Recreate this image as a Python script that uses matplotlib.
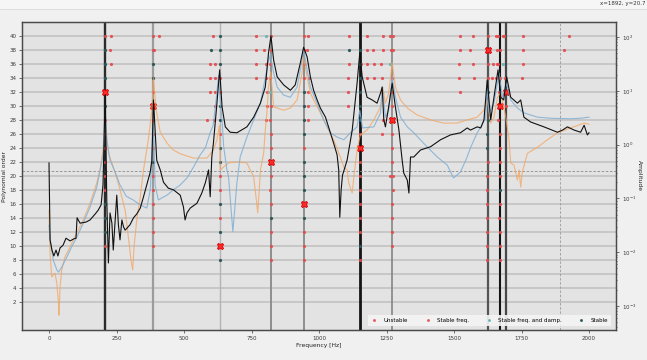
import matplotlib
matplotlib.use('Agg')
import matplotlib.pyplot as plt
from matplotlib.patches import Rectangle
from matplotlib.lines import Line2D
import numpy as np

# ---------------- FRF curves: frequency [Hz] and log10(amplitude) ----------------
black_f = [0, 4, 11, 18, 26, 33, 41, 52, 63, 78, 93, 100, 104, 115, 137, 152, 171, 182, 193, 200,
           208, 214, 220, 226, 233, 238, 251, 257, 263, 270, 276, 282, 300, 313, 325, 338, 350, 362,
           375, 381, 387, 399, 412, 424, 442, 461, 486, 498, 504, 511, 523, 548, 566, 579, 591, 597,
           603, 609, 622, 632, 641, 653, 671, 696, 733, 758, 783, 801, 813, 822, 832, 845, 869, 894,
           912, 931, 943, 956, 968, 980, 993, 1005, 1024, 1042, 1054, 1067, 1073, 1077, 1082, 1087,
           1104, 1123, 1141, 1151, 1160, 1178, 1197, 1215, 1228, 1234, 1240, 1246, 1258, 1271, 1283,
           1296, 1308, 1314, 1327, 1333, 1339, 1351, 1376, 1413, 1450, 1487, 1524, 1549, 1561, 1586,
           1599, 1611, 1623, 1636, 1648, 1663, 1673, 1684, 1695, 1710, 1735, 1747, 1759, 1784, 1833,
           1883, 1902, 1920, 1945, 1969, 1982, 1994, 2000]
black_logA = [-0.34, -1.77, -1.96, -2.07, -1.96, -2.07, -1.92, -1.87, -1.74, -1.79, -1.75, -1.74, -1.36,
              -1.46, -1.44, -1.40, -1.29, -1.22, -1.12, -0.75, 0.92, -1.03, -2.20, -1.27, -1.46, -1.96,
              -0.94, -1.49, -1.77, -1.40, -1.53, -1.59, -1.49, -1.36, -1.29, -1.18, -0.97, -0.75, -0.51,
              -0.29, 0.83, -0.29, -0.47, -0.70, -0.81, -0.84, -0.94, -1.16, -1.40, -1.27, -1.18, -1.09,
              -0.90, -0.71, -0.47, -0.97, -0.23, 0.03, 0.77, 1.39, 0.70, 0.33, 0.23, 0.22, 0.33, 0.51,
              0.77, 1.07, 1.70, 2.02, 1.57, 1.26, 1.11, 1.01, 1.11, 1.52, 1.81, 1.63, 1.26, 1.01, 0.83,
              0.68, 0.51, 0.22, 0.03, -0.19, -0.47, -1.35, -0.84, -0.57, -0.29, 0.27, 1.14, 1.70, 1.26,
              0.88, 0.83, 0.77, 0.96, 1.07, 0.46, 0.33, 0.70, 1.14, 0.70, 0.27, -0.29, -0.53, -0.66,
              -0.90, -0.23, -0.23, -0.10, -0.04, 0.09, 0.18, 0.22, 0.31, 0.27, 0.33, 0.31, 0.46, 1.20,
              0.46, 0.88, 1.39, 0.88, 0.83, 1.26, 0.88, 0.77, 0.83, 0.51, 0.42, 0.33, 0.23, 0.27, 0.33,
              0.27, 0.23, 0.36, 0.18, 0.22]

blue_f = [0, 4, 16, 29, 35, 47, 66, 84, 103, 127, 152, 177, 193, 201, 208, 214, 226, 245, 263, 286,
          312, 338, 362, 375, 382, 387, 393, 405, 418, 437, 461, 486, 511, 535, 560, 579, 597, 608,
          619, 628, 634, 641, 647, 659, 665, 681, 696, 708, 733, 758, 783, 801, 812, 820, 832, 845,
          869, 894, 919, 937, 943, 956, 968, 993, 1017, 1042, 1067, 1092, 1116, 1141, 1151, 1161,
          1203, 1228, 1234, 1246, 1258, 1271, 1283, 1302, 1327, 1351, 1400, 1438, 1475, 1498, 1524,
          1547, 1561, 1586, 1599, 1617, 1623, 1630, 1648, 1667, 1679, 1695, 1710, 1735, 1759, 1809,
          1858, 1932, 1969, 2000]
blue_logA = [-1.50, -1.77, -2.15, -2.33, -2.37, -2.28, -2.09, -1.90, -1.72, -1.46, -1.16, -0.79, -0.38,
             -0.16, 0.55, 0.09, -0.29, -0.51, -0.75, -0.96, -1.03, -1.12, -1.18, -0.84, -0.10, 0.36,
             -0.75, -1.03, -0.99, -0.94, -0.84, -0.75, -0.62, -0.42, -0.19, -0.06, 0.22, 0.36, 0.83,
             1.29, 0.83, 0.46, -0.04, -0.47, -0.60, -1.62, -0.71, -0.23, 0.14, 0.46, 0.77, 1.24, 1.54,
             1.67, 1.33, 1.07, 0.92, 0.88, 1.07, 1.57, 1.76, 1.39, 1.07, 0.77, 0.46, 0.22, 0.14, 0.09,
             0.22, 0.33, 0.64, 0.31, 0.33, 0.59, 1.07, 0.51, 0.64, 1.26, 0.88, 0.51, 0.33, 0.22, -0.04,
             -0.23, -0.38, -0.62, -0.51, -0.25, -0.06, 0.22, 0.33, 0.49, 1.07, 0.59, 0.77, 1.33, 0.88,
             1.14, 0.83, 0.68, 0.59, 0.51, 0.49, 0.48, 0.49, 0.51]

orange_f = [0, 4, 10, 22, 29, 35, 37, 41, 47, 59, 78, 103, 127, 152, 177, 189, 200, 208, 220, 233,
            248, 263, 282, 294, 304, 310, 315, 325, 338, 350, 368, 381, 387, 397, 412, 437, 460, 486,
            535, 585, 609, 622, 631, 634, 646, 665, 696, 733, 745, 758, 768, 773, 778, 783, 795, 801,
            807, 813, 821, 832, 845, 869, 894, 919, 937, 943, 956, 968, 980, 1005, 1030, 1054, 1079,
            1092, 1104, 1110, 1123, 1129, 1141, 1153, 1178, 1203, 1228, 1236, 1246, 1258, 1271, 1283,
            1302, 1327, 1364, 1413, 1462, 1512, 1549, 1586, 1611, 1623, 1636, 1648, 1661, 1673, 1692,
            1704, 1710, 1722, 1735, 1741, 1747, 1753, 1772, 1809, 1846, 1883, 1932, 1982, 2000]
orange_logA = [-1.22, -2.02, -2.46, -2.39, -2.57, -2.95, -3.17, -2.65, -2.33, -2.09, -1.90, -1.64, -1.40,
               -1.09, -0.71, -0.47, -0.10, 0.46, -0.16, -0.34, -0.57, -0.84, -1.22, -1.72, -2.15, -2.33,
               -1.90, -1.40, -0.97, -0.47, 0.09, 0.64, 1.24, 0.64, 0.23, 0.03, -0.10, -0.17, -0.25,
               -0.25, -0.10, 0.09, 0.36, -0.47, -0.42, -0.34, -0.32, -0.34, -0.47, -0.60, -1.03, -1.27,
               -0.90, -0.47, -0.16, 0.27, 0.59, 1.07, 1.35, 0.70, 0.68, 0.64, 0.68, 0.83, 1.33, 1.63,
               1.26, 0.96, 0.83, 0.59, 0.33, 0.09, -0.23, -0.42, -0.47, -0.71, -0.90, -0.60, -0.10,
               0.18, 0.27, 0.46, 0.70, 1.07, 0.77, 0.96, 1.52, 1.07, 0.83, 0.68, 0.55, 0.46, 0.40, 0.40,
               0.46, 0.51, 0.64, 0.83, 0.40, 0.51, 0.88, 0.96, 0.51, 0.09, -0.34, -0.38, -0.66, -0.47,
               -0.79, -0.51, -0.16, -0.05, 0.09, 0.22, 0.31, 0.40, 0.38]

# ---------------- stabilisation poles: (polynomial order, frequency [Hz]) ----------------
unstable = [(40, 229), (40, 408), (40, 608), (40, 765), (40, 958), (40, 1112), (40, 1176), (40, 1236),
            (40, 1262), (40, 1522), (40, 1570), (40, 1654), (40, 1663), (40, 1681), (40, 1755), (40, 1925),
            (38, 227), (38, 768), (38, 797), (38, 955), (38, 1177), (38, 1199), (38, 1236), (38, 1265),
            (38, 1524), (38, 1561), (38, 1661), (38, 1754), (38, 1906),
            (36, 228), (36, 597), (36, 615), (36, 765), (36, 804), (36, 1110), (36, 1157), (36, 1176),
            (36, 1203), (36, 1231), (36, 1520), (36, 1570), (36, 1646), (36, 1659), (36, 1663), (36, 1756),
            (34, 597), (34, 615), (34, 765), (34, 962), (34, 1109), (34, 1178), (34, 1205), (34, 1234),
            (34, 1519), (34, 1574), (34, 1640), (34, 1655), (34, 1751),
            (32, 597), (32, 615), (32, 958), (32, 1107), (32, 1234), (32, 1522),
            (30, 613), (30, 806), (30, 958), (30, 1107),
            (28, 585), (28, 612), (28, 804), (28, 958), (28, 1236),
            (26, 1234), (20, 1262)]
stable_freq = [(40, 208), (40, 387), (40, 821), (40, 943), (40, 1273), (40, 1626), (40, 1687),
               (38, 385), (38, 389), (38, 822), (38, 944), (38, 1274), (38, 1628), (38, 1669),
               (36, 819), (36, 944), (36, 1626),
               (34, 633), (34, 804), (34, 819), (34, 944), (34, 1271), (34, 1626), (34, 1670), (34, 1690),
               (32, 208), (32, 387), (32, 633), (32, 807), (32, 1270), (32, 1668),
               (30, 821), (30, 1271), (30, 1692),
               (28, 208), (28, 387), (28, 819), (28, 1664),
               (26, 208), (26, 387), (26, 633), (26, 821), (26, 1151), (26, 1272), (26, 1669),
               (24, 208), (24, 387), (24, 821), (24, 943), (24, 1272), (24, 1669),
               (22, 208), (22, 1151), (22, 1272), (22, 1626), (22, 1669),
               (20, 208), (20, 387), (20, 633), (20, 821), (20, 1151), (20, 1273), (20, 1624), (20, 1669),
               (18, 208), (18, 387), (18, 633), (18, 819), (18, 1151), (18, 1273), (18, 1624),
               (16, 387), (16, 821), (16, 1151), (16, 1272), (16, 1624), (16, 1669),
               (14, 387), (14, 633), (14, 1151), (14, 1272), (14, 1624), (14, 1667),
               (12, 387), (12, 821), (12, 945), (12, 1151), (12, 1272), (12, 1624), (12, 1669),
               (10, 208), (10, 387), (10, 821), (10, 945), (10, 1270), (10, 1624), (10, 1671),
               (8, 821), (8, 945), (8, 1151), (8, 1624), (8, 1671)]
stable_freq_damp = [(40, 804), (36, 1264), (36, 1682), (32, 819)]
stable = [(40, 633), (38, 208), (38, 601), (38, 633), (38, 1110), (38, 1151),
          (36, 208), (36, 387), (36, 633), (36, 1151), (34, 208), (34, 387), (34, 1151),
          (32, 943), (32, 1151), (32, 1626), (30, 208), (30, 633), (30, 943), (30, 1151), (30, 1626),
          (28, 633), (28, 943), (28, 1151), (28, 1626), (26, 943), (26, 1624), (24, 633), (24, 1624),
          (22, 387), (22, 633), (22, 945), (20, 945), (18, 945), (18, 1669), (16, 208), (16, 633),
          (14, 208), (14, 821), (14, 945), (12, 208), (12, 633), (10, 1151), (8, 633)]

# selected poles (frequency, order)
selected_f = [208, 387, 633, 822, 945, 1150, 1272, 1626, 1669, 1694]
selected_n = [32, 30, 10, 22, 16, 24, 28, 38, 30, 32]

x_ticks = [0, 250, 500, 750, 1000, 1250, 1500, 1750, 2000]
order_ticks = list(range(2, 41, 2))
cursor_f, cursor_n = 1892, 20.7

# ---------------- styling ----------------
vline_colors = ['#2b2b2b', '#9c9c9c', '#b4b4b4', '#8e8e8e', '#8e8e8e', '#151515', '#7c7c7c',
                '#555555', '#141414', '#474747']
vline_widths = [1.7, 1.6, 1.0, 1.4, 1.4, 2.0, 1.1, 1.6, 1.5, 1.6]

fig = plt.figure(figsize=(6.47, 3.6), dpi=100, facecolor='#f0f0f0')
# window toolbar strip
fig.patches.append(Rectangle((0, 351 / 360), 1, 9 / 360, transform=fig.transFigure,
                             facecolor='#f6f6f6', edgecolor='none', zorder=0))
fig.lines.append(Line2D([0, 1], [351 / 360, 351 / 360], transform=fig.transFigure,
                        color='#dadada', lw=0.6))
fig.text(0.997, 0.998, 'x=1892, y=20.7', fontsize=4.0, color='#333333', va='top', ha='right')

ax = fig.add_axes([22 / 647, 30 / 360, 594 / 647, 308 / 360])
ax.set_facecolor('#e3e3e3')
ax.set_xlim(-100, 2100)
ax.set_ylim(-2, 42)
ax.set_yticks(order_ticks)
ax.set_xticks(x_ticks)
ax.grid(axis='y', color='#c2c2c2', lw=1.2)
ax.set_axisbelow(True)
for s in ax.spines.values():
    s.set_color('#4a4a4a')
    s.set_linewidth(0.9)
ax.tick_params(labelsize=4, length=2, width=0.5, colors='#3a3a3a', pad=2)
ax.set_xlabel('Frequency [Hz]', fontsize=4.3, color='#222222', labelpad=2)
ax.set_ylabel('Polynomial order', fontsize=4.3, color='#222222', labelpad=1.5)

for f, c, w in zip(selected_f, vline_colors, vline_widths):
    ax.axvline(f, color=c, lw=w, zorder=1.5)


def split(pairs):
    return [p[1] for p in pairs], [p[0] for p in pairs]


ms = 2.3
uf, un = split(unstable)
ax.plot(uf, un, 'o', ms=ms, color='#e8454a', mec='none', alpha=0.9, label='Unstable', zorder=3)
sf, sn = split(stable_freq)
ax.plot(sf, sn, 'o', ms=ms, color='#e24b4b', mec='none', alpha=0.9, label='Stable freq.', zorder=3)
df, dn = split(stable_freq_damp)
ax.plot(df, dn, 'o', ms=ms, color='#6cb6b6', mec='none', label='Stable freq. and damp.', zorder=3)
tf, tn = split(stable)
ax.plot(tf, tn, 'o', ms=ms, color='#2d5858', mec='none', label='Stable', zorder=3)
ax.plot(selected_f, selected_n, 'X', ms=5, color='#ff2a2a', mec='#d80000', mew=0.6, zorder=4)

ax.axvline(cursor_f, color='#9a9a9a', lw=0.6, ls=(0, (3, 2)), zorder=2)
ax.axhline(cursor_n, color='#8a8a8a', lw=0.6, ls=(0, (3, 2)), zorder=2)

leg = ax.legend(loc='lower right', ncol=4, fontsize=4, frameon=True, handlelength=1.0,
                handletextpad=1.2, columnspacing=3.0, borderpad=0.6, markerscale=0.9,
                fancybox=False, bbox_to_anchor=(0.997, 0.003))
leg.get_frame().set_facecolor('#f4f4f4')
leg.get_frame().set_edgecolor('none')
leg.get_frame().set_alpha(0.9)
leg.set_zorder(10)

ax2 = ax.twinx()
ax2.set_yscale('log')
ax2.set_ylim(10 ** -3.446, 10 ** 2.279)
ax2.plot(orange_f, 10 ** np.array(orange_logA), color='#f4a35c', lw=0.8, alpha=0.75)
ax2.plot(blue_f, 10 ** np.array(blue_logA), color='#7fafd4', lw=0.8, alpha=0.85)
ax2.plot(black_f, 10 ** np.array(black_logA), color='#111111', lw=0.8)
ax2.tick_params(labelsize=4, length=2, width=0.5, colors='#3a3a3a', pad=2)
ax2.tick_params(which='minor', length=1, width=0.4)
ax2.set_ylabel('Amplitude', fontsize=4.3, color='#222222', rotation=270, labelpad=4)
for s in ax2.spines.values():
    s.set_color('#4a4a4a')
    s.set_linewidth(0.9)

fig.savefig('out.png', dpi=100, facecolor=fig.get_facecolor())
